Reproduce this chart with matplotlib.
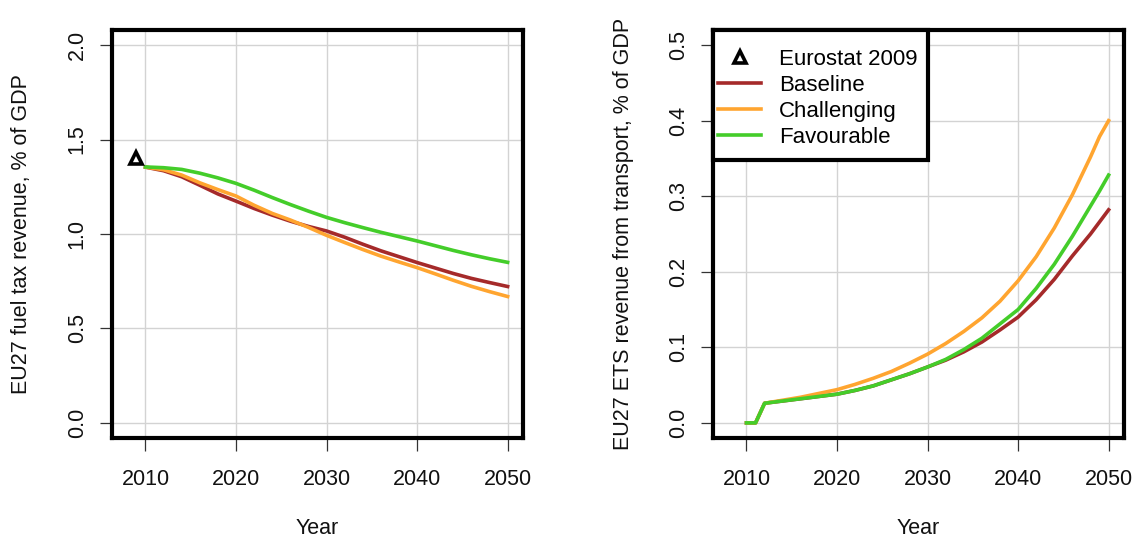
import matplotlib
matplotlib.use("Agg")
import matplotlib.pyplot as plt
from matplotlib.lines import Line2D
from matplotlib.patches import Rectangle

plt.rcParams["font.family"] = ["Liberation Sans", "DejaVu Sans"]

# Fuel tax revenue, % of GDP
years_fuel = [2010, 2012, 2014, 2016, 2018, 2020, 2022, 2024, 2026, 2028, 2030,
              2032, 2034, 2036, 2038, 2040, 2042, 2044, 2046, 2048, 2050]
fuel_baseline = [1.354, 1.335, 1.303, 1.258, 1.212, 1.174, 1.135, 1.100, 1.068, 1.040, 1.016,
                 0.983, 0.946, 0.911, 0.880, 0.849, 0.820, 0.791, 0.765, 0.743, 0.722]
fuel_challenging = [1.354, 1.340, 1.312, 1.271, 1.235, 1.201, 1.152, 1.109, 1.074, 1.035, 0.993,
                    0.955, 0.918, 0.883, 0.852, 0.822, 0.789, 0.755, 0.723, 0.695, 0.669]
fuel_favourable = [1.355, 1.351, 1.342, 1.322, 1.297, 1.268, 1.232, 1.193, 1.156, 1.121, 1.088,
                   1.060, 1.034, 1.009, 0.986, 0.963, 0.938, 0.913, 0.890, 0.869, 0.850]
eurostat_year = 2009
eurostat_value = 1.40

# ETS revenue from transport, % of GDP
years_ets = [2010, 2011, 2012, 2014, 2016, 2018, 2020, 2022, 2024, 2026, 2028, 2030,
             2032, 2034, 2036, 2038, 2040, 2042, 2044, 2046, 2048, 2049, 2050]
ets_baseline = [0.0, 0.0, 0.026, 0.029, 0.032, 0.035, 0.038, 0.043, 0.049, 0.057, 0.065, 0.074,
                0.083, 0.094, 0.107, 0.123, 0.140, 0.163, 0.190, 0.221, 0.250, 0.266, 0.282]
ets_challenging = [0.0, 0.0, 0.026, 0.030, 0.034, 0.039, 0.044, 0.051, 0.059, 0.068, 0.079, 0.091,
                   0.105, 0.121, 0.139, 0.161, 0.188, 0.220, 0.258, 0.302, 0.352, 0.379, 0.400]
ets_favourable = [0.0, 0.0, 0.026, 0.029, 0.032, 0.035, 0.038, 0.043, 0.049, 0.057, 0.065, 0.074,
                  0.084, 0.097, 0.112, 0.131, 0.150, 0.178, 0.210, 0.247, 0.287, 0.307, 0.328]

x_ticks = [2010, 2020, 2030, 2040, 2050]
fuel_ticks = [0.0, 0.5, 1.0, 1.5, 2.0]
ets_ticks = [0.0, 0.1, 0.2, 0.3, 0.4, 0.5]

C_BASE = "#A52A2A"
C_CHAL = "#FFA530"
C_FAV = "#44CD2A"
LW = 2.6
FS = 15.5

W, H = 1136, 540
fig = plt.figure(figsize=(W / 100, H / 100), dpi=100)
ax1 = fig.add_axes([112 / W, 1 - 438 / H, 411 / W, 408 / H])
ax2 = fig.add_axes([713 / W, 1 - 438 / H, 411 / W, 408 / H])


def style_axes(ax, yticks, ylim, ylabel):
    ax.set_xlim(2006.3, 2051.7)
    ax.set_ylim(*ylim)
    ax.set_xticks(x_ticks)
    ax.set_yticks(yticks)
    ax.set_yticklabels([f"{v:.1f}" for v in yticks])
    ax.grid(True, color="#D3D3D3", linewidth=1.0, zorder=0)
    ax.set_axisbelow(True)
    for sp in ax.spines.values():
        sp.set_linewidth(3.0)
        sp.set_color("black")
    ax.tick_params(axis="both", direction="out", length=9, width=0.9,
                   color="#333333", labelsize=FS, labelcolor="#111111")
    ax.tick_params(axis="x", pad=13)
    ax.tick_params(axis="y", pad=8.5, labelrotation=90)
    for lab in ax.get_yticklabels():
        lab.set_va("center")
    ax.set_xlabel("Year", fontsize=FS, color="#111111")
    ax.xaxis.set_label_coords(0.5, (438 - 528) / 408)
    ax.xaxis.label.set_va("center")
    ax.set_ylabel(ylabel, fontsize=FS, color="#111111")
    ax.yaxis.set_label_coords((22 - 112) / 411, 0.5)
    ax.yaxis.label.set_va("center")


# left panel: fuel tax
style_axes(ax1, fuel_ticks, (-0.08, 2.08), "EU27 fuel tax revenue, % of GDP")
ax1.plot(years_fuel, fuel_baseline, color=C_BASE, lw=LW, zorder=3)
ax1.plot(years_fuel, fuel_challenging, color=C_CHAL, lw=LW, zorder=3)
ax1.plot(years_fuel, fuel_favourable, color=C_FAV, lw=LW, zorder=3)
ax1.plot([eurostat_year], [eurostat_value], marker="^", ms=9, mfc="white",
         mec="black", mew=2.6, ls="none", zorder=4)

# right panel: ETS revenue
style_axes(ax2, ets_ticks, (-0.02, 0.52), "EU27 ETS revenue from transport, % of GDP")
ax2.plot(years_ets, ets_baseline, color=C_BASE, lw=LW, zorder=3)
ax2.plot(years_ets, ets_challenging, color=C_CHAL, lw=LW, zorder=3)
ax2.plot(years_ets, ets_favourable, color=C_FAV, lw=LW, zorder=3)

# legend with a square white frame flush to the top-left corner
box = Rectangle((0, 1 - 130 / 408), 215 / 411, 130 / 408, transform=ax2.transAxes,
                facecolor="white", edgecolor="black", linewidth=3.0, zorder=5,
                clip_on=False)
ax2.add_patch(box)
handles = [
    Line2D([], [], marker="^", ms=9, mfc="white", mec="black", mew=2.6, ls="none"),
    Line2D([], [], color=C_BASE, lw=LW),
    Line2D([], [], color=C_CHAL, lw=LW),
    Line2D([], [], color=C_FAV, lw=LW),
]
labels = ["Eurostat 2009", "Baseline", "Challenging", "Favourable"]
leg = ax2.legend(handles, labels, loc="upper left", bbox_to_anchor=(5 / 411, 1 - 19 / 408),
                 frameon=False, borderpad=0, borderaxespad=0, handlelength=1.95,
                 handletextpad=0.8, labelspacing=0.22, fontsize=16)
leg.set_zorder(6)

fig.savefig("out.png", dpi=100)
